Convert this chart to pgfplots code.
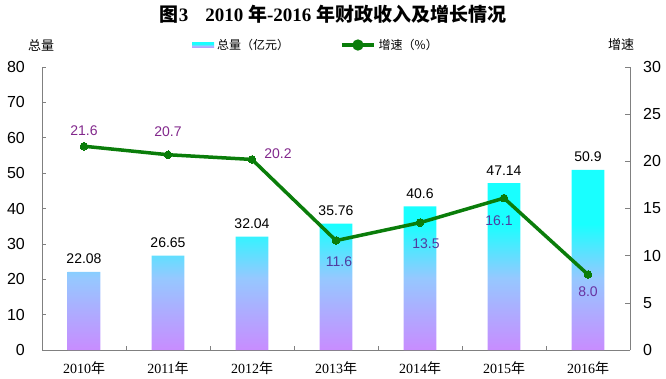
\documentclass[border=0pt]{standalone}
\usepackage{pgfplots}
\pgfplotsset{compat=1.18}
\usepackage{fontspec}
\setmainfont{Liberation Sans}
\newfontfamily\cjk{Noto Sans CJK SC}
\newfontfamily\serif{Liberation Serif}
\definecolor{cy}{RGB}{25,255,255}
\definecolor{lb}{RGB}{150,200,255}
\definecolor{pu}{RGB}{200,140,255}
\definecolor{lgreen}{RGB}{10,125,10}
\definecolor{labA}{RGB}{130,40,140}
\definecolor{labB}{RGB}{80,60,160}
\definecolor{labC}{RGB}{105,50,160}
\definecolor{axgray}{RGB}{128,128,128}
\pgfdeclareverticalshading{barshade}{100bp}{color(0bp)=(pu); color(25bp)=(pu); color(45bp)=(lb); color(60bp)=(cy); color(75bp)=(cy); color(100bp)=(cy)}
\newcommand{\yr}[1]{{\serif #1}{\cjk 年}}
% x, y, dx, dy, colour
\newcommand{\lab}[5]{\addplot[draw=none, mark=none, forget plot, point meta=explicit symbolic, nodes near coords,
  nodes near coords style={anchor=center, xshift=#3pt, yshift=#4pt, font=\fontsize{14}{16}\selectfont, text=#5}]
  coordinates {(#1,#2) [#2]};}

\begin{document}
\begin{tikzpicture}[x=1pt,y=1pt]
\useasboundingbox (0,0) rectangle (666,378);
\begin{axis}[
  at={(42pt,28pt)}, anchor=south west, scale only axis,
  width=588pt, height=283pt,
  xmin=-0.5, xmax=6.5, ymin=0, ymax=80,
  ytick={0,10,...,80},
  axis x line*=bottom, axis y line*=left,
  axis line style={axgray, line width=0.8pt, -},
  xtick={0,...,6},
  xticklabels={\yr{2010},\yr{2011},\yr{2012},\yr{2013},\yr{2014},\yr{2015},\yr{2016}},
  minor xtick={0.5,1.5,...,5.5},
  major x tick style={draw=none},
  tick align=inside,
  tick style={axgray, line width=0.6pt},
  major tick length=4pt, minor tick length=4pt,
  /pgf/number format/assume math mode=true,
  yticklabel style={font=\fontsize{16}{18}\selectfont, inner sep=0pt, anchor=east, xshift=-17pt},
  xticklabel style={font=\fontsize{14}{16}\selectfont, inner sep=0pt, anchor=center, yshift=-18pt},
  clip=false,
]
\addplot[ybar, bar width=0.39, draw=none, shading=barshade,
  point meta=explicit symbolic, nodes near coords,
  nodes near coords style={anchor=center, yshift=13pt, font=\fontsize{14}{16}\selectfont, text=black}]
  coordinates {(0,22.08) [22.08] (1,26.65) [26.65] (2,32.04) [32.04] (3,35.76) [35.76] (4,40.6) [40.6] (5,47.14) [47.14] (6,50.9) [50.9]};
\end{axis}
\begin{axis}[
  at={(42pt,28pt)}, anchor=south west, scale only axis,
  width=588pt, height=283pt,
  xmin=-0.5, xmax=6.5, ymin=0, ymax=30,
  ytick={0,5,...,30},
  axis x line=none, axis y line*=right,
  axis line style={axgray, line width=0.8pt, -},
  tick align=inside,
  tick style={axgray, line width=0.6pt},
  major tick length=5pt,
  /pgf/number format/assume math mode=true,
  yticklabel style={font=\fontsize{16}{18}\selectfont, inner sep=0pt, anchor=west, xshift=13pt},
  clip=false,
  legend columns=2,
  legend style={at={(0.2551,1.0777)}, anchor=west, draw=none, fill=none, inner sep=0pt,
    font=\cjk\fontsize{12}{14}\selectfont,
    nodes={inner sep=1pt},
    /tikz/every odd column/.append style={column sep=2pt},
    /tikz/every even column/.append style={column sep=50pt}},
]
\addlegendimage{legend image code/.code={\shade[shading=barshade, draw=none] (0pt,-2.7pt) rectangle (22pt,2.7pt);}}
\addlegendentry{总量（亿元）}
\addplot[lgreen, line width=3.5pt, mark=*, mark size=3.8pt,
  mark options={solid, fill=lgreen, draw=lgreen, line width=0pt},
  legend image code/.code={\draw[lgreen, line width=3.5pt] (0pt,0pt) -- (32pt,0pt); \fill[lgreen] (16pt,0pt) circle (3.8pt);}]
  coordinates {(0,21.6) (1,20.7) (2,20.2) (3,11.6) (4,13.5) (5,16.1) (6,8.0)};
\addlegendentry{增速（\%）}
\lab{0}{21.6}{0}{16}{labA}
\lab{1}{20.7}{0}{23}{labA}
\lab{2}{20.2}{26}{6}{labA}
\lab{3}{11.6}{3}{-21}{labB}
\lab{4}{13.5}{6}{-21}{labB}
\lab{5}{16.1}{-5}{-23}{labB}
\lab{6}{8.0}{0}{-17}{labC}
\end{axis}
\node at (41,333) {\cjk\fontsize{13}{15}\selectfont 总量};
\node at (621,333) {\cjk\fontsize{13}{15}\selectfont 增速};
\node at (333,364) {\fontsize{19}{22}\selectfont\bfseries{\cjk 图}{\serif 3}\hspace{0.9em}{\serif 2010 }{\cjk 年}{\serif -2016 }{\cjk 年财政收入及增长情况}};
\end{tikzpicture}
\end{document}
